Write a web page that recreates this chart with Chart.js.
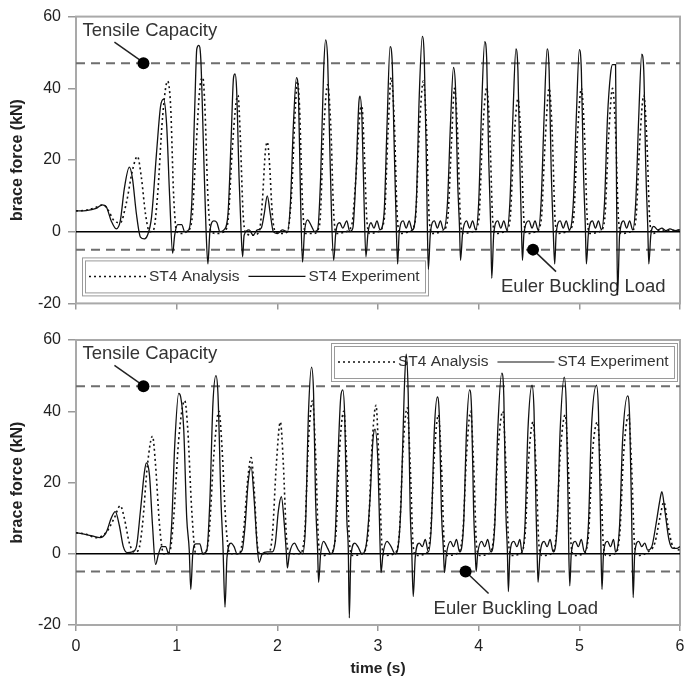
<!DOCTYPE html>
<html>
<head>
<meta charset="utf-8">
<script src="https://cdn.jsdelivr.net/npm/chart.js@4.4.1/dist/chart.umd.min.js"></script>
<style>
  body { margin: 0; background: #fff; }
  .panel { position: absolute; left: 0; }
</style>
</head>
<body>
<div class="panel" style="top:0"><canvas id="topPanel" width="686" height="320"></canvas></div>
<div class="panel" style="top:320px"><canvas id="bottomPanel" width="686" height="367"></canvas></div>
<script>
// Datos: [tiempo (s), fuerza (kN)]
const timeMin = 0, timeMax = 6;
const forceTicks = [-20, 0, 20, 40, 60];
const tensileCapacity = 47;
const eulerBucklingLoad = -5;

// Panel superior - ensayo
const topExperiment = [
  [0,5.8],[0.1,5.9],[0.2,6.5],[0.26,7.5],[0.3,7],[0.35,3],[0.4,0.8],[0.44,3],[0.48,12],[0.53,18],
  [0.56,15],[0.6,5],[0.64,-1.5],[0.68,-2],[0.71,-1],[0.75,4],[0.8,22],[0.84,35],[0.87,37],[0.9,30],
  [0.93,10],[0.96,-6],[0.98,-1],[1.01,2],[1.05,2],[1.08,0],[1.12,0.5],[1.15,8],[1.18,35],[1.2,51],
  [1.22,52],[1.24,48],[1.27,20],[1.29,2],[1.31,-9],[1.33,0],[1.37,3],[1.4,2.5],[1.43,0],[1.47,0.5],
  [1.51,5],[1.54,25],[1.565,43],[1.58,44],[1.595,40],[1.62,15],[1.64,0],[1.655,-7],[1.67,-1],[1.72,0.5],
  [1.76,-1],[1.8,0.5],[1.84,1],[1.87,5],[1.9,10],[1.93,5],[1.96,0],[2.0,-0.5],[2.05,0.5],[2.1,0],
  [2.13,8],[2.16,30],[2.19,43],[2.21,38],[2.23,10],[2.25,-8.5],[2.27,0],[2.3,3.3],[2.34,1.5],[2.37,0],
  [2.4,0.5],[2.43,15],[2.46,45],[2.48,53.5],[2.5,48],[2.52,25],[2.54,3],[2.56,-8],[2.58,-0.5],[2.62,2.5],
  [2.65,1],[2.69,3],[2.72,0],[2.75,1],[2.78,15],[2.81,36],[2.82,37.8],[2.84,32],[2.86,10],[2.88,-7],
  [2.9,-0.5],[2.93,2.5],[2.96,1],[2.99,3],[3.02,0.5],[3.06,5],[3.09,30],[3.12,51.6],[3.14,48],[3.16,25],
  [3.18,3],[3.195,-9],[3.21,-0.5],[3.25,3],[3.28,1],[3.31,3],[3.34,0.5],[3.38,8],[3.41,38],[3.44,54.5],
  [3.46,48],[3.48,20],[3.49,2],[3.5,-10.5],[3.52,-0.5],[3.56,3],[3.59,1],[3.62,3],[3.65,0.5],[3.69,8],
  [3.72,30],[3.75,45.8],[3.77,40],[3.79,15],[3.81,1],[3.82,-8],[3.84,-0.5],[3.88,3],[3.91,1],[3.94,3],
  [3.97,0.5],[4.0,8],[4.03,35],[4.06,53],[4.08,48],[4.1,20],[4.12,1],[4.13,-13],[4.15,-0.5],[4.19,3],
  [4.22,1],[4.25,3],[4.28,0.5],[4.31,8],[4.34,32],[4.37,51],[4.39,45],[4.41,18],[4.425,1],[4.435,-8],
  [4.45,-0.5],[4.5,3],[4.53,1],[4.56,3],[4.59,0.5],[4.62,8],[4.65,32],[4.68,51],[4.7,45],[4.72,18],
  [4.74,1],[4.755,-9],[4.77,-0.5],[4.81,3],[4.84,1],[4.87,3],[4.9,0.5],[4.94,8],[4.97,32],[5.0,50.8],
  [5.02,45],[5.04,18],[5.06,1],[5.07,-9],[5.09,-0.5],[5.13,3],[5.16,1],[5.19,3],[5.22,0.5],[5.25,8],
  [5.28,32],[5.31,44],[5.33,46.6],[5.36,46.6],[5.37,10],[5.38,-17.7],[5.4,-1],[5.44,3],[5.47,1],[5.5,3],
  [5.53,0.5],[5.56,8],[5.59,32],[5.62,49.5],[5.64,45],[5.66,18],[5.68,1],[5.69,-9],[5.71,-1],[5.74,1.5],
  [5.78,0.5],[5.82,1],[5.86,0.3],[5.9,0.8],[5.95,0.3],[6.0,0.5]
];

// Panel superior - analisis
const topAnalysis = [
  [0,5.8],[0.1,6],[0.2,6.8],[0.27,7.5],[0.32,6],[0.38,3],[0.44,2.5],[0.5,8],[0.56,17],[0.61,21],
  [0.65,15],[0.69,5],[0.73,0],[0.77,0.5],[0.81,10],[0.86,32],[0.91,42],[0.94,35],[0.97,10],[1.0,0],
  [1.05,-0.5],[1.1,0],[1.15,3],[1.19,22],[1.23,40],[1.26,43],[1.28,35],[1.31,10],[1.34,0],[1.4,-0.5],
  [1.47,0],[1.51,3],[1.55,22],[1.59,36],[1.61,38],[1.63,28],[1.66,5],[1.69,-0.5],[1.76,-1],[1.82,0],
  [1.85,8],[1.88,22],[1.9,25],[1.92,20],[1.95,5],[1.98,0],[2.05,-0.5],[2.1,0],[2.14,10],[2.18,35],
  [2.2,42],[2.22,35],[2.25,8],[2.28,-0.5],[2.36,-0.5],[2.42,2],[2.46,28],[2.5,41],[2.53,30],[2.56,5],
  [2.59,-0.5],[2.68,0],[2.74,2],[2.78,15],[2.82,33],[2.84,35],[2.86,25],[2.89,3],[2.92,-0.5],[3.0,0],
  [3.06,3],[3.1,28],[3.13,43],[3.16,32],[3.19,5],[3.22,-0.5],[3.31,0],[3.37,3],[3.41,28],[3.45,42],
  [3.48,30],[3.51,3],[3.54,-0.5],[3.63,0],[3.69,3],[3.73,25],[3.76,40],[3.79,28],[3.82,3],[3.85,-0.5],
  [3.94,0],[4.0,3],[4.04,28],[4.08,40],[4.11,28],[4.14,3],[4.17,-0.5],[4.26,0],[4.31,3],[4.35,25],
  [4.39,37],[4.42,26],[4.45,3],[4.48,-0.5],[4.57,0],[4.62,3],[4.66,25],[4.7,40],[4.73,28],[4.76,3],
  [4.79,-0.5],[4.88,0],[4.94,3],[4.98,26],[5.02,40],[5.05,28],[5.08,3],[5.11,-0.5],[5.2,0],[5.25,3],
  [5.29,26],[5.33,40],[5.36,28],[5.39,3],[5.42,-0.5],[5.51,0],[5.56,3],[5.6,25],[5.64,38],[5.67,26],
  [5.7,3],[5.73,-0.5],[5.8,0.5],[5.9,0.3],[6.0,0.5]
];

// Panel inferior - ensayo
const bottomExperiment = [
  [0,5.9],[0.08,5.5],[0.16,5],[0.24,4.5],[0.3,6],[0.35,10],[0.39,11.8],[0.43,8],[0.47,2],[0.51,0.3],
  [0.56,0.5],[0.6,2],[0.64,12],[0.68,23],[0.7,25.5],[0.73,22],[0.76,8],[0.79,-3],[0.82,0],[0.85,2],
  [0.89,2],[0.92,0],[0.95,8],[0.98,30],[1.02,45],[1.04,44],[1.07,35],[1.1,10],[1.125,1],[1.14,-10],
  [1.16,0],[1.19,2.8],[1.23,2.8],[1.26,0],[1.3,1],[1.33,15],[1.36,42],[1.39,50],[1.41,45],[1.44,15],
  [1.46,2],[1.48,-15],[1.5,-1],[1.54,3],[1.57,2],[1.6,0],[1.65,1],[1.68,8],[1.71,20],[1.74,24.4],
  [1.77,15],[1.8,2],[1.82,-2.4],[1.85,0],[1.9,0.5],[1.95,0.5],[1.98,3],[2.01,12],[2.04,16],[2.07,8],
  [2.09,0],[2.1,-4],[2.12,0],[2.17,3],[2.21,1],[2.25,0],[2.28,8],[2.31,40],[2.34,52.4],[2.36,45],
  [2.38,15],[2.4,1],[2.41,-8],[2.43,0],[2.46,3.5],[2.5,1.5],[2.53,0],[2.57,3],[2.6,25],[2.63,44],
  [2.65,46],[2.67,38],[2.69,10],[2.705,1],[2.715,-18],[2.73,-1],[2.77,3],[2.8,2],[2.84,0],[2.88,2],
  [2.92,15],[2.95,32],[2.97,35],[3.0,25],[3.02,3],[3.03,-5.3],[3.05,0],[3.09,3.5],[3.13,2],[3.17,0],
  [3.2,2],[3.23,15],[3.26,45],[3.28,56],[3.3,45],[3.32,12],[3.335,1],[3.35,-12],[3.37,-1],[3.41,3],
  [3.44,2],[3.47,4],[3.5,0.5],[3.53,8],[3.56,35],[3.59,44],[3.61,38],[3.63,12],[3.65,1],[3.66,-5.3],
  [3.68,0],[3.72,3.5],[3.75,2],[3.78,4],[3.81,0.5],[3.85,8],[3.88,35],[3.91,46],[3.93,40],[3.95,12],
  [3.965,1],[3.975,-5],[3.99,0],[4.03,3.5],[4.06,2],[4.09,4],[4.12,0.5],[4.16,8],[4.19,35],[4.23,50.7],
  [4.25,44],[4.27,12],[4.285,1],[4.295,-10.6],[4.31,0],[4.35,3.5],[4.38,2],[4.41,4],[4.43,0.5],[4.46,8],
  [4.49,35],[4.53,47.3],[4.55,40],[4.57,12],[4.58,1],[4.59,-8],[4.61,0],[4.65,3.5],[4.68,2],[4.71,4],
  [4.74,0.5],[4.78,8],[4.81,35],[4.85,49.6],[4.87,42],[4.89,12],[4.895,1],[4.905,-9],[4.92,0],[4.96,3.5],
  [4.99,2],[5.02,4],[5.05,0.5],[5.09,8],[5.12,35],[5.17,47.3],[5.19,40],[5.21,10],[5.215,1],[5.225,-10],
  [5.24,0],[5.28,3.5],[5.31,2],[5.34,4],[5.36,0.5],[5.4,8],[5.43,32],[5.48,44.3],[5.5,38],[5.52,10],
  [5.525,1],[5.535,-12.3],[5.55,0],[5.59,3.5],[5.62,2],[5.65,3],[5.68,1],[5.72,2],[5.76,8],[5.8,15],
  [5.82,17.4],[5.85,12],[5.89,4],[5.93,1.5],[5.97,1.5],[6.0,2]
];

// Panel inferior - analisis
const bottomAnalysis = [
  [0,5.9],[0.1,5.5],[0.2,4.5],[0.3,6],[0.38,10],[0.44,13.5],[0.48,10],[0.53,3],[0.58,0.5],[0.62,1],
  [0.66,8],[0.71,25],[0.76,33],[0.79,25],[0.83,8],[0.87,0],[0.93,0.5],[0.97,10],[1.02,32],[1.08,43],
  [1.11,35],[1.15,12],[1.19,0],[1.27,0],[1.32,5],[1.37,28],[1.42,40],[1.45,30],[1.49,8],[1.53,0],
  [1.62,0],[1.66,5],[1.71,22],[1.74,27],[1.77,18],[1.8,3],[1.83,0],[1.9,0],[1.95,5],[1.99,25],
  [2.03,37],[2.06,25],[2.09,5],[2.12,0],[2.22,0],[2.27,5],[2.31,32],[2.35,43],[2.38,28],[2.41,3],
  [2.44,-0.5],[2.52,0],[2.58,5],[2.62,30],[2.66,40],[2.69,25],[2.72,2],[2.75,-0.5],[2.84,0],[2.9,5],
  [2.94,30],[2.98,41.7],[3.01,25],[3.04,2],[3.07,-0.5],[3.16,0],[3.21,5],[3.25,30],[3.29,41],[3.32,25],
  [3.35,2],[3.38,-0.5],[3.47,0],[3.52,5],[3.56,28],[3.6,39],[3.63,25],[3.66,2],[3.69,-0.5],[3.78,0],
  [3.84,5],[3.88,28],[3.92,40],[3.95,25],[3.98,2],[4.01,-0.5],[4.1,0],[4.15,5],[4.19,28],[4.24,40],
  [4.27,25],[4.3,2],[4.33,-0.5],[4.41,0],[4.46,5],[4.5,28],[4.54,37],[4.57,24],[4.6,2],[4.63,-0.5],
  [4.72,0],[4.77,5],[4.81,28],[4.86,39],[4.89,25],[4.92,2],[4.95,-0.5],[5.04,0],[5.09,5],[5.13,28],
  [5.18,37],[5.21,24],[5.24,2],[5.27,-0.5],[5.35,0],[5.4,5],[5.44,28],[5.49,39],[5.52,24],[5.55,2],
  [5.58,-0.5],[5.68,0.5],[5.75,3],[5.8,10],[5.84,14.5],[5.88,8],[5.93,2],[6.0,1]
];

// Puntos de las anotaciones [tiempo, fuerza]
const topTensileDot = [0.67, 47];
const topEulerDot = [4.54, -5];
const bottomTensileDot = [0.67, 47];
const bottomEulerDot = [3.87, -5];

const FONT = '"Liberation Sans", Arial, Helvetica, sans-serif';

function toPoints(arr) {
  return arr.map(p => ({ x: p[0], y: p[1] }));
}

function hLine(v) {
  return [{ x: timeMin, y: v }, { x: timeMax, y: v }];
}

// Dibuja marco, anotaciones y leyenda (debajo de las curvas)
const decorPlugin = {
  id: 'decor',
  beforeDatasetsDraw(chart, args, o) {
    const { ctx, chartArea: a, scales: { x, y } } = chart;
    ctx.save();
    // marco del area de trazado
    ctx.strokeStyle = '#a9a9a9';
    ctx.lineWidth = 2;
    ctx.strokeRect(a.left, a.top, a.right - a.left, a.bottom - a.top);

    ctx.fillStyle = '#333';
    ctx.strokeStyle = '#222';
    ctx.lineWidth = 1.5;
    ctx.font = '18.5px ' + FONT;
    ctx.textBaseline = 'alphabetic';
    ctx.textAlign = 'left';

    const tx = x.getPixelForValue(o.tensile[0]);
    const ty = y.getPixelForValue(o.tensile[1]);
    ctx.fillText('Tensile Capacity', tx - 61, ty - 27);
    ctx.beginPath();
    ctx.moveTo(tx - 29, ty - 21);
    ctx.lineTo(tx - 2, ty - 2);
    ctx.stroke();

    const ex = x.getPixelForValue(o.euler[0]);
    const ey = y.getPixelForValue(o.euler[1]);
    ctx.fillText('Euler Buckling Load', ex - 32, ey + 42);
    ctx.beginPath();
    ctx.moveTo(ex + 2, ey + 2);
    ctx.lineTo(ex + 23, ey + 22);
    ctx.stroke();

    // leyenda
    const lg = o.legend;
    let left, top;
    const w = 346, h = 38;
    if (lg === 'bottomLeft') { left = a.left + 6; top = a.bottom - 8 - h; }
    else { left = a.right - 3 - w; top = a.top + 3; }
    ctx.strokeStyle = '#9a9a9a';
    ctx.lineWidth = 1;
    ctx.strokeRect(left + 0.5, top + 0.5, w, h);
    ctx.strokeRect(left + 3.5, top + 3.5, w - 6, h - 6);

    ctx.font = '15.5px ' + FONT;
    ctx.textBaseline = 'middle';
    const cy = top + h / 2;
    let cx = left + 7;
    ctx.strokeStyle = '#111';
    ctx.lineWidth = 1.5;
    ctx.setLineDash([2, 3]);
    ctx.beginPath(); ctx.moveTo(cx, cy); ctx.lineTo(cx + 57, cy); ctx.stroke();
    cx += 60;
    ctx.fillText('ST4 Analysis', cx, cy);
    cx += ctx.measureText('ST4 Analysis').width + 9;
    ctx.setLineDash([]);
    ctx.lineWidth = 1.2;
    ctx.beginPath(); ctx.moveTo(cx, cy); ctx.lineTo(cx + 57, cy); ctx.stroke();
    cx += 60;
    ctx.fillText('ST4 Experiment', cx, cy);
    ctx.restore();
  }
};

function buildPanel(canvasId, cfg) {
  const ctx = document.getElementById(canvasId).getContext('2d');
  return new Chart(ctx, {
    type: 'line',
    data: {
      datasets: [
        { label: 'dots', type: 'scatter', data: [toPoints([cfg.tensileDot])[0], toPoints([cfg.eulerDot])[0]],
          pointRadius: 6, pointBackgroundColor: '#000', pointBorderWidth: 0, order: 0 },
        { label: 'ST4 Experiment', data: toPoints(cfg.experiment), borderColor: '#111', borderWidth: 1.3, order: 1 },
        { label: 'ST4 Analysis', data: toPoints(cfg.analysis), borderColor: '#111', borderWidth: 1.6, borderDash: [2, 3], order: 2 },
        { label: 'zero', data: hLine(0), borderColor: '#000', borderWidth: 1.5, order: 3 },
        { label: 'Tensile Capacity', data: hLine(tensileCapacity), borderColor: '#6e6e6e', borderWidth: 2, borderDash: [9, 6], order: 4 },
        { label: 'Euler Buckling Load', data: hLine(eulerBucklingLoad), borderColor: '#6e6e6e', borderWidth: 2, borderDash: [9, 6], order: 4 }
      ]
    },
    options: {
      responsive: false,
      animation: false,
      events: [],
      elements: {
        point: { radius: 0 },
        line: { cubicInterpolationMode: 'monotone', fill: false }
      },
      layout: { padding: { top: cfg.padTop, right: 2, left: 0, bottom: 0 } },
      plugins: {
        legend: { display: false },
        tooltip: { enabled: false },
        decor: { tensile: cfg.tensileDot, euler: cfg.eulerDot, legend: cfg.legend }
      },
      scales: {
        x: {
          type: 'linear',
          min: timeMin, max: timeMax,
          afterFit: s => { s.height = cfg.xHeight; s.paddingLeft = 0; s.paddingRight = 0; },
          border: { display: false },
          grid: { drawOnChartArea: false, tickLength: 6, color: '#999', lineWidth: 1.5 },
          ticks: { display: cfg.showX, stepSize: 1, padding: 6, color: '#222', font: { family: FONT, size: 16 } },
          title: { display: cfg.showX, text: 'time (s)', color: '#222', padding: { top: 0, bottom: 9 },
                   font: { family: FONT, size: 15.5, weight: 'bold' } }
        },
        y: {
          min: forceTicks[0], max: forceTicks[forceTicks.length - 1],
          afterFit: s => { s.width = 76; },
          afterBuildTicks: s => { s.ticks = forceTicks.map(v => ({ value: v })); },
          border: { display: false },
          grid: { drawOnChartArea: false, tickLength: 8, color: '#999', lineWidth: 1.5 },
          ticks: { padding: 7, color: '#222', font: { family: FONT, size: 16 } },
          title: { display: true, text: 'brace force (kN)', color: '#222', padding: { top: 8, bottom: 0 },
                   font: { family: FONT, size: 16, weight: 'bold' } }
        }
      }
    },
    plugins: [decorPlugin]
  });
}

buildPanel('topPanel', {
  experiment: topExperiment, analysis: topAnalysis,
  tensileDot: topTensileDot, eulerDot: topEulerDot,
  legend: 'bottomLeft', showX: false, padTop: 15, xHeight: 15
});

buildPanel('bottomPanel', {
  experiment: bottomExperiment, analysis: bottomAnalysis,
  tensileDot: bottomTensileDot, eulerDot: bottomEulerDot,
  legend: 'topRight', showX: true, padTop: 20, xHeight: 62
});
</script>
</body>
</html>
